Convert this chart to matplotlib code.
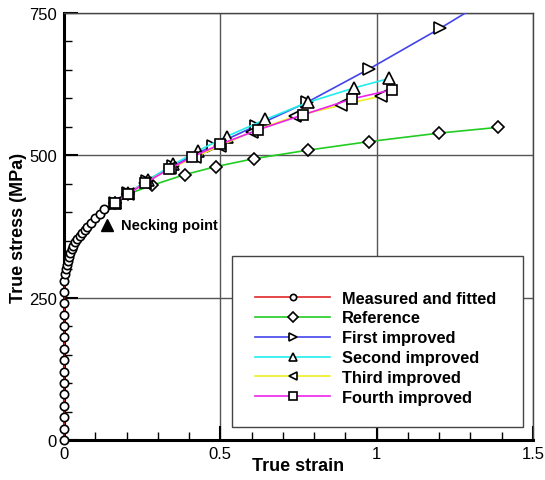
import matplotlib
matplotlib.use('Agg')
import matplotlib.pyplot as plt
from matplotlib.patches import Rectangle
from matplotlib.ticker import MultipleLocator

plt.rcParams['font.family'] = ['Liberation Sans', 'DejaVu Sans']

# Measured and fitted curve (elastic part + plastic part up to necking)
measured_strain = [0.0, 0.0001, 0.0002, 0.0003, 0.0004, 0.0005, 0.0006, 0.0007,
                   0.0008, 0.0009, 0.0010, 0.0011, 0.0012, 0.0013, 0.0014,
                   0.004, 0.007, 0.010, 0.013, 0.016, 0.020, 0.025, 0.030, 0.036,
                   0.043, 0.050, 0.058, 0.066, 0.075, 0.087, 0.100, 0.114, 0.129,
                   0.163, 0.205]
measured_stress = [0, 20, 40, 60, 80, 100, 120, 140, 160, 180, 200, 220, 240, 260, 280,
                   292, 300, 308, 315, 322, 329, 335, 341, 347,
                   353, 358, 364, 369, 374, 381, 389, 397, 405,
                   417, 433]

ref_strain = [0.163, 0.205, 0.28, 0.386, 0.485, 0.607, 0.78, 0.975, 1.2, 1.387]
ref_stress = [417, 432, 447, 466, 480, 494, 509, 524, 539, 549]

first_strain = [0.163, 0.205, 0.264, 0.349, 0.477, 0.615, 0.777, 0.977, 1.203, 1.32]
first_stress = [417, 433, 455, 482, 517, 552, 593, 652, 723, 762]

second_strain = [0.163, 0.205, 0.27, 0.35, 0.429, 0.52, 0.644, 0.78, 0.926, 1.04]
second_stress = [417, 433, 457, 484, 508, 533, 563, 593, 618, 635]

third_strain = [0.163, 0.205, 0.26, 0.34, 0.42, 0.5, 0.6, 0.74, 0.886, 1.014]
third_stress = [417, 432, 452, 477, 497, 517, 541, 569, 588, 604]

fourth_strain = [0.163, 0.205, 0.259, 0.336, 0.41, 0.498, 0.622, 0.764, 0.921, 1.049]
fourth_stress = [417, 432, 451, 476, 497, 519, 545, 571, 599, 615]

necking_strain = 0.137
necking_stress = 377

series = [
    (measured_strain, measured_stress, '#e02828', 'o', 6, 'Measured and fitted'),
    (ref_strain, ref_stress, '#22cc22', 'D', 6.5, 'Reference'),
    (first_strain, first_stress, '#4444ee', '>', 8, 'First improved'),
    (second_strain, second_stress, '#22eeee', '^', 8, 'Second improved'),
    (third_strain, third_stress, '#eeee22', '<', 8, 'Third improved'),
    (fourth_strain, fourth_stress, '#ee22ee', 's', 7.5, 'Fourth improved'),
]


def main():
    fig = plt.figure(figsize=(5.45, 4.81), dpi=100)
    ax = fig.add_axes([0.1174, 0.0832, 0.8606, 0.8878])

    handles = []
    for i, (xs, ys, color, marker, ms, label) in enumerate(series):
        h, = ax.plot(xs, ys, color=color, lw=1.2, marker=marker, ms=ms,
                     mfc='white', mec='black', mew=1.2, label=label, zorder=4)
        if i == 0:
            # circles sitting on the y axis must not be cut off
            h.set_clip_on(False)
            h.set_zorder(3)
        handles.append(h)

    # Necking point marker and label
    ax.plot([necking_strain], [necking_stress], marker='^', color='black', ms=9, ls='none', zorder=4)
    ax.text(necking_strain + 0.045, necking_stress, 'Necking point', fontsize=10.5,
            fontweight='bold', va='center', ha='left')

    ax.set_xlim(0, 1.5)
    ax.set_ylim(0, 750)
    ax.xaxis.set_major_locator(MultipleLocator(0.5))
    ax.xaxis.set_minor_locator(MultipleLocator(0.1))
    ax.yaxis.set_major_locator(MultipleLocator(250))
    ax.yaxis.set_minor_locator(MultipleLocator(50))
    ax.xaxis.set_major_formatter(plt.FuncFormatter(lambda v, p: '%g' % v))

    ax.tick_params(which='both', direction='in', top=False, right=False, labelsize=12)
    ax.tick_params(axis='x', which='major', length=10, width=1.5, pad=4)
    ax.tick_params(axis='y', which='major', length=10, width=1.5, pad=5)
    ax.tick_params(which='minor', length=6, width=1.0)

    ax.grid(which='major', color='#555555', lw=1.0)
    ax.set_axisbelow(True)

    for side in ['left', 'bottom']:
        ax.spines[side].set_linewidth(2.2)
        ax.spines[side].set_color('black')
    for side in ['top', 'right']:
        ax.spines[side].set_linewidth(1.0)
        ax.spines[side].set_color('#444444')

    ax.set_xlabel('True strain', fontsize=13, fontweight='bold')
    ax.set_ylabel('True stress (MPa)', fontsize=13, fontweight='bold')
    ax.xaxis.set_label_coords(0.5, -0.04)
    ax.yaxis.set_label_coords(-0.079, 0.5)

    # Legend box
    ax.add_patch(Rectangle((0.358, 0.030), 0.621, 0.401, transform=ax.transAxes,
                           facecolor='white', edgecolor='#444444', lw=1.0, zorder=5))
    leg = ax.legend(handles=handles, loc='upper left', bbox_to_anchor=(0.407, 0.350),
                    frameon=False, prop={'weight': 'bold', 'size': 11.8},
                    handlelength=4.6, handletextpad=0.73, labelspacing=0.3,
                    borderpad=0, borderaxespad=0, numpoints=1, markerscale=0.75)
    leg.set_zorder(6)

    fig.savefig('out.png', dpi=100)


if __name__ == '__main__':
    main()
